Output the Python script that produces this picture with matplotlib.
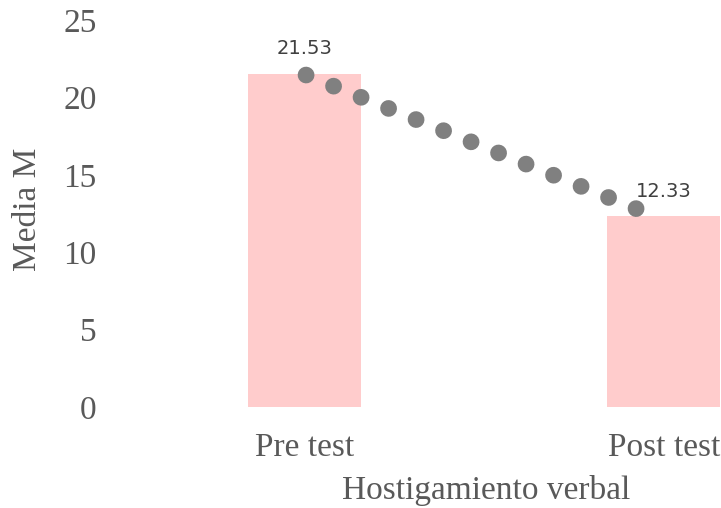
import matplotlib
matplotlib.use('Agg')
import matplotlib.pyplot as plt

# datos
categorias = ['Pre test', 'Post test']
medias = [21.53, 12.33]
etiquetas = ['21.53', '12.33']
yticks = [0, 5, 10, 15, 20, 25]

color_barra = '#FFCCCC'
color_linea = '#808080'
color_texto = '#595959'

plt.rcParams['font.family'] = ['Liberation Serif', 'DejaVu Serif']

fig = plt.figure(figsize=(7.21, 5.08), dpi=100)
ax = fig.add_axes([105 / 721, 101 / 508, 616 / 721, 387 / 508])

x = list(range(len(categorias)))
ax.bar(x, medias, width=0.315, color=color_barra, zorder=1)

ax.set_xlim(-0.557, 1.159)
ax.set_ylim(0, 25)
ax.set_yticks(yticks)
ax.set_xticks(x)
ax.set_xticklabels(categorias)
for s in ax.spines.values():
    s.set_visible(False)
ax.tick_params(axis='both', length=0, labelsize=24, colors=color_texto)
ax.tick_params(axis='x', pad=18)
ax.tick_params(axis='y', pad=6)

ax.set_xlabel('Hostigamiento verbal', fontsize=24, color=color_texto)
ax.xaxis.set_label_coords(0.6185, -0.175)
ax.set_ylabel('Media M', fontsize=24, color=color_texto)
ax.yaxis.set_label_coords(-0.101, 0.51)

# linea punteada (dibujada como forma encima de las barras)
ax_l = fig.add_axes([306 / 721, 299 / 508, 331 / 721, 134 / 508])
ax_l.set_xlim(0, 1)
ax_l.set_ylim(medias[1], medias[0])
ax_l.axis('off')
ax_l.plot(x, medias, color=color_linea, linewidth=12,
          linestyle=(0, (0.01, 1.77)), dash_capstyle='round', clip_on=False)

for xi, v, t in zip(x, medias, etiquetas):
    ax.annotate(t, (xi, v), xytext=(0, 18), textcoords='offset points',
                ha='center', va='center', fontsize=14, color='#404040',
                family='DejaVu Sans')

fig.savefig('out.png', dpi=100)
